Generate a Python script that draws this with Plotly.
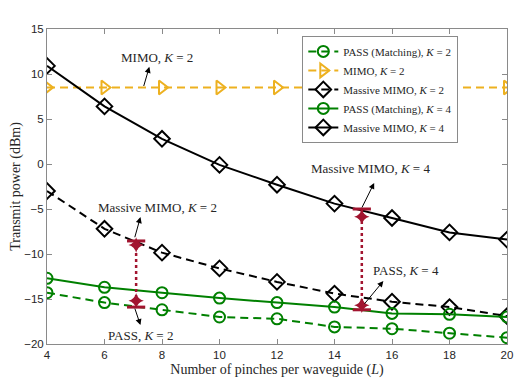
import plotly.graph_objects as go

# Number of pinches per waveguide
L = [4, 6, 8, 10, 12, 14, 16, 18, 20]

# Transmit power (dBm) per scheme
pass_k2 = [-14.3, -15.4, -16.2, -17.0, -17.2, -18.1, -18.3, -18.8, -19.3]
mimo_k2 = [8.5, 8.5, 8.5, 8.5, 8.5, 8.5, 8.5, 8.5, 8.5]
massive_k2 = [-3.0, -7.2, -9.85, -11.6, -13.1, -14.4, -15.3, -15.9, -16.9]
pass_k4 = [-12.7, -13.7, -14.3, -14.9, -15.4, -15.9, -16.6, -16.7, -17.0]
massive_k4 = [10.9, 6.4, 2.8, -0.1, -2.3, -4.4, -6.0, -7.6, -8.4]

# Gap markers (double arrows) between Massive MIMO and PASS
gap_x = [7.1, 14.95]
gap_top_cap = [-8.55, -5.0]
gap_top_head = [-9.0, -5.85]
gap_bot_head = [-15.2, -15.7]
gap_bot_cap = [-15.9, -16.2]

# Text labels: (label, text x, text y, arrow tail x, tail y, head x, head y)
labels = [
    ("MIMO, <i>K</i> = 2", 7.84, 11.8, 7.35, 8.5, 7.56, 10.8),
    ("Massive MIMO, <i>K</i> = 2", 7.84, -4.8, 7.04, -8.3, 7.25, -5.9),
    ("PASS, <i>K</i> = 2", 7.25, -19.0, 7.04, -15.9, 7.25, -17.9),
    ("Massive MIMO, <i>K</i> = 4", 15.25, -0.45, 14.93, -5.0, 15.38, -2.1),
    ("PASS, <i>K</i> = 4", 16.47, -11.8, 15.0, -15.7, 15.7, -13.0),
]

GREEN = "#008000"
ORANGE = "#EDB120"
BLACK = "#000000"
RED = "#A2142F"
SERIF = "Liberation Serif"
DASH = "8px,5px"

fig = go.Figure()


def add_series(y, name, color, symbol, dash, size):
    fig.add_scatter(
        x=L, y=y, name=name, mode="lines+markers",
        line={"color": color, "width": 2, "dash": dash},
        marker={"symbol": symbol, "size": size, "color": color,
                "line": {"color": color, "width": 2}},
    )


add_series(pass_k2, "PASS (Matching), <i>K</i> = 2", GREEN, "circle-open", DASH, 11)
add_series(mimo_k2, "MIMO, <i>K</i> = 2", ORANGE, "triangle-right-open", DASH, 12)
add_series(massive_k2, "Massive MIMO, <i>K</i> = 2", BLACK, "diamond-open", DASH, 12)
add_series(pass_k4, "PASS (Matching), <i>K</i> = 4", GREEN, "circle-open", "solid", 11)
add_series(massive_k4, "Massive MIMO, <i>K</i> = 4", BLACK, "diamond-open", "solid", 12)

# dotted red connector
dx, dy = [], []
for x, t, b in zip(gap_x, gap_top_cap, gap_bot_cap):
    dx += [x, x, None]
    dy += [t, b, None]
fig.add_scatter(x=dx, y=dy, mode="lines", showlegend=False, hoverinfo="skip",
                line={"color": RED, "width": 2.5, "dash": "dot"})
fig.add_scatter(x=gap_x + gap_x, y=gap_top_cap + gap_bot_cap, mode="markers",
                showlegend=False, hoverinfo="skip",
                marker={"symbol": "line-ew-open", "size": 13, "color": RED,
                        "line": {"color": RED, "width": 3}})
fig.add_scatter(x=gap_x + gap_x, y=gap_top_head + gap_bot_head, mode="markers",
                showlegend=False, hoverinfo="skip",
                marker={"symbol": "star-diamond", "size": 11, "color": RED,
                        "line": {"width": 0}})

for text, tx, ty, ax, ay, hx, hy in labels:
    fig.add_annotation(x=tx, y=ty, text=text, showarrow=False,
                       font={"family": SERIF, "size": 13, "color": "#262626"})
    fig.add_annotation(x=hx, y=hy, ax=ax, ay=ay, axref="x", ayref="y", text="",
                       showarrow=True, arrowhead=2, arrowsize=1.2, arrowwidth=1,
                       arrowcolor="#000000")

axis_common = dict(
    showgrid=False, zeroline=False, showline=True, mirror="ticks",
    linecolor="#8a8a8a", linewidth=1, ticks="inside", ticklen=5,
    tickcolor="#8a8a8a", tickwidth=1, automargin=False,
    tickfont={"family": "Liberation Sans", "size": 11.5, "color": "#262626"},
)

# the page body keeps its default 8px margin, so the figure is sized to fit inside it
fig.update_layout(
    width=524, height=379,
    margin={"l": 39, "r": 25, "t": 21, "b": 43},
    paper_bgcolor="white", plot_bgcolor="white",
    xaxis=dict(axis_common, range=[4, 20], tickvals=[4, 6, 8, 10, 12, 14, 16, 18, 20],
               title={"text": "Number of pinches per waveguide (<i>L</i>)",
                      "font": {"family": SERIF, "size": 14, "color": "#262626"},
                      "standoff": 4}),
    yaxis=dict(axis_common, range=[-20, 15], tickvals=[-20, -15, -10, -5, 0, 5, 10, 15],
               title={"text": "Transmit power (dBm)",
                      "font": {"family": SERIF, "size": 14, "color": "#262626"},
                      "standoff": 2}),
    legend={"x": 0.555, "y": 0.978, "xanchor": "left", "yanchor": "top",
            "bgcolor": "white", "bordercolor": "#8a8a8a", "borderwidth": 1,
            "font": {"family": SERIF, "size": 11, "color": "#262626"},
            "itemwidth": 30, "tracegroupgap": 0},
    showlegend=True,
)

fig.write_html("out.html")
